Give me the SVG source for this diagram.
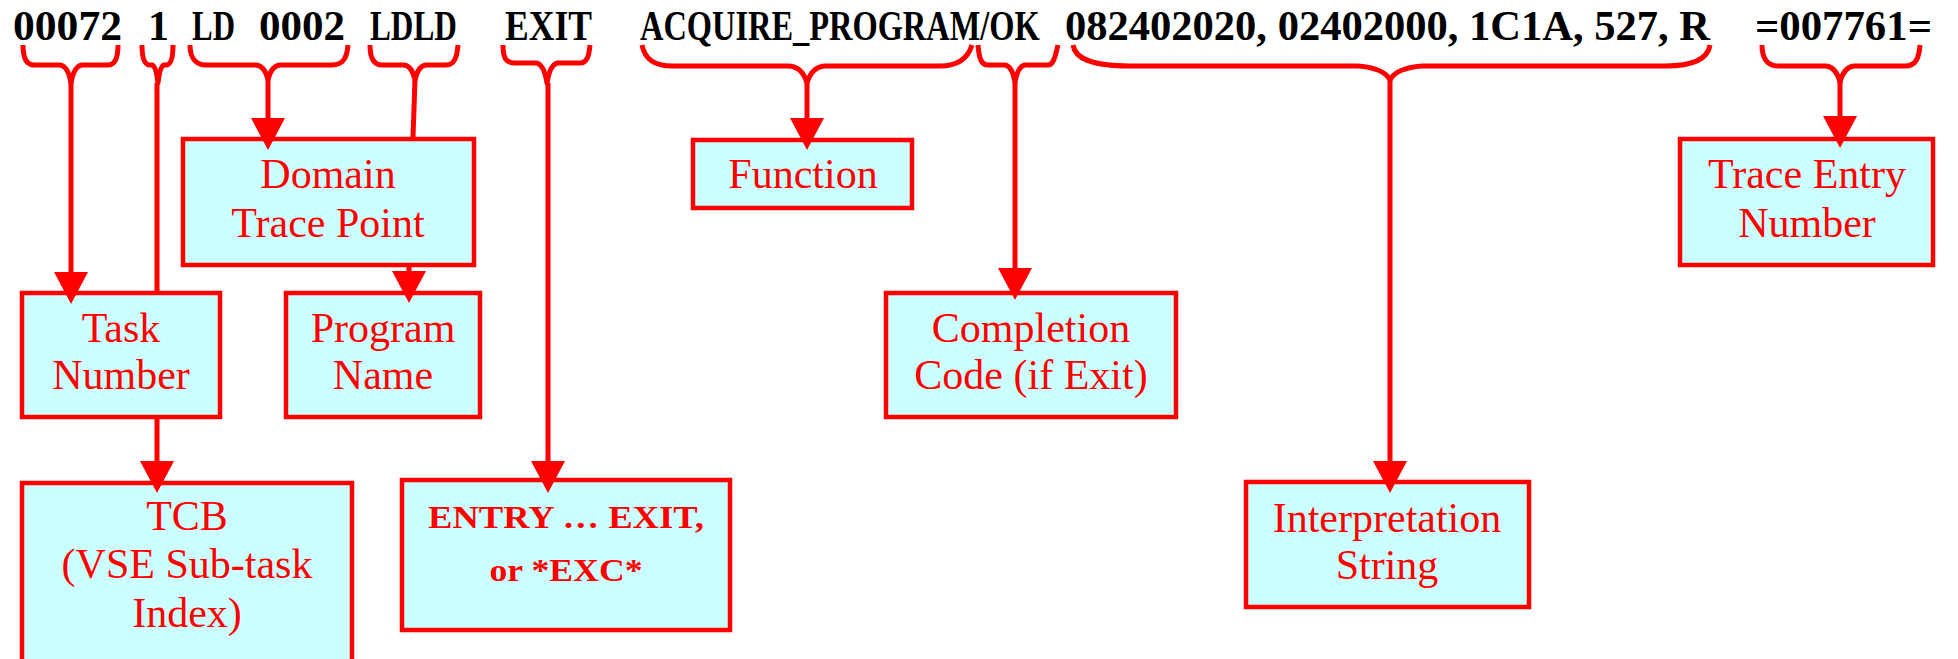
<svg xmlns="http://www.w3.org/2000/svg" width="1958" height="659" viewBox="0 0 1958 659">
<style>
.code{font-family:"Liberation Serif","Times New Roman",serif;font-weight:bold;font-size:42px;fill:#000}
.box{fill:#CCFFFF;stroke:#FF0000;stroke-width:4.5}
.lbl{font-family:"Liberation Serif","Times New Roman",serif;font-size:42px;fill:#FF0000;text-anchor:middle}
.blbl{font-family:"Liberation Serif","Times New Roman",serif;font-size:32px;font-weight:bold;fill:#FF0000;text-anchor:middle}
.brace{fill:none;stroke:#FF0000;stroke-width:5;stroke-linejoin:round}
.conn{fill:none;stroke:#FF0000;stroke-width:5}
.arr{marker-end:url(#ah)}
</style>
<defs>
<marker id="ah" markerUnits="userSpaceOnUse" markerWidth="34" markerHeight="34" refX="24" refY="17" orient="auto">
<path d="M0,0 L32,17 L0,34 Z" fill="#FF0000"/>
</marker>
</defs>
<rect width="1958" height="659" fill="#FFFFFF"/>
<g id="trace-line">
<text class="code" x="13" y="40" textLength="109" lengthAdjust="spacingAndGlyphs">00072</text>
<text class="code" x="148" y="40">1</text>
<text class="code" transform="translate(192 40) scale(0.737 1)">LD</text>
<text class="code" x="259" y="40" textLength="86" lengthAdjust="spacingAndGlyphs">0002</text>
<text class="code" transform="translate(370 40) scale(0.745 1)">LDLD</text>
<text class="code" transform="translate(505 40) scale(0.847 1)">EXIT</text>
<text class="code" transform="translate(640 40) scale(0.772 1)">ACQUIRE_PROGRAM/OK</text>
<text class="code" x="1065" y="40" textLength="645" lengthAdjust="spacingAndGlyphs">082402020, 02402000, 1C1A, 527, R</text>
<text class="code" x="1755" y="40" textLength="177" lengthAdjust="spacingAndGlyphs">=007761=</text>
</g>
<g id="braces">
<path class="brace" d="M23,45 C23,58 26,65 34,65 H60 Q68,66 71,83 Q74,66 82,65 H108 C115,65 118,58 118,45"/>
<path class="brace" d="M142,45 C142,58 144,65 150,65 H152 Q156,66 158,83 Q160,66 164,65 H166 C171,65 173,58 173,45"/>
<path class="brace" d="M190,45 C190,58 196,65 206,65 H256 Q265,66 268,80 Q271,66 280,65 H332 C343,65 347,58 348,45"/>
<path class="brace" d="M370,45 C370,58 374,65 382,65 H404 Q412,66 415,80 Q418,66 426,65 H446 C454,65 457,58 458,45"/>
<path class="brace" d="M503,45 C503,58 506,63 514,63 H536 Q544,64 547,83 Q550,64 558,63 H580 C587,63 589,56 590,45"/>
<path class="brace" d="M642,45 C645,60 655,66 672,66 H788 Q802,66 807,83 Q812,66 826,66 H940 C958,66 968,58 972,45"/>
<path class="brace" d="M978,45 C979,58 981,65 988,65 H1005 Q1012,66 1015,82 Q1018,66 1025,65 H1048 C1053,65 1055,58 1058,45"/>
<path class="brace" d="M1073,45 C1075,58 1090,66 1130,66 H1358 Q1384,68 1390,80 Q1396,68 1422,66 H1665 C1695,66 1708,58 1710,45"/>
<path class="brace" d="M1762,45 C1762,58 1767,66 1778,66 H1826 Q1836,67 1840,82 Q1844,67 1854,66 H1905 C1916,66 1919,58 1920,45"/>
</g>
<g id="domain-trace-point">
<rect class="box" x="183" y="139" width="291" height="126"/>
<text class="lbl" x="328" y="188">Domain</text>
<text class="lbl" x="328" y="237">Trace Point</text>
</g>
<g id="function">
<rect class="box" x="693" y="140" width="219" height="68"/>
<text class="lbl" x="803" y="188">Function</text>
</g>
<g id="trace-entry-number">
<rect class="box" x="1680" y="139" width="253" height="126"/>
<text class="lbl" x="1807" y="188">Trace Entry</text>
<text class="lbl" x="1807" y="237">Number</text>
</g>
<g id="task-number">
<rect class="box" x="22" y="293" width="198" height="124"/>
<text class="lbl" x="121" y="342">Task</text>
<text class="lbl" x="121" y="389">Number</text>
</g>
<g id="program-name">
<rect class="box" x="286" y="293" width="194" height="124"/>
<text class="lbl" x="383" y="342">Program</text>
<text class="lbl" x="383" y="389">Name</text>
</g>
<g id="completion-code">
<rect class="box" x="886" y="293" width="290" height="124"/>
<text class="lbl" x="1031" y="342">Completion</text>
<text class="lbl" x="1031" y="389">Code (if Exit)</text>
</g>
<g id="tcb">
<rect class="box" x="22" y="483" width="330" height="200"/>
<text class="lbl" x="187" y="530">TCB</text>
<text class="lbl" x="187" y="578">(VSE Sub-task</text>
<text class="lbl" x="187" y="627">Index)</text>
</g>
<g id="entry-exit">
<rect class="box" x="402" y="480" width="328" height="150"/>
<text class="blbl" x="566" y="528" textLength="276" lengthAdjust="spacingAndGlyphs">ENTRY … EXIT,</text>
<text class="blbl" x="566" y="581" textLength="153" lengthAdjust="spacingAndGlyphs">or *EXC*</text>
</g>
<g id="interpretation-string">
<rect class="box" x="1246" y="482" width="283" height="125"/>
<text class="lbl" x="1387" y="532">Interpretation</text>
<text class="lbl" x="1387" y="579">String</text>
</g>
<g id="connectors">
<line class="conn arr" x1="71" y1="83" x2="71" y2="296"/>
<line class="conn" x1="157" y1="83" x2="157" y2="291"/>
<line class="conn arr" x1="157" y1="419" x2="157" y2="485"/>
<line class="conn arr" x1="268" y1="80" x2="268" y2="142"/>
<line class="conn" x1="415" y1="80" x2="413" y2="137"/>
<line class="conn arr" x1="409" y1="267" x2="409" y2="295"/>
<line class="conn arr" x1="548" y1="83" x2="548" y2="485"/>
<line class="conn arr" x1="807" y1="83" x2="807" y2="142"/>
<line class="conn arr" x1="1015" y1="82" x2="1015" y2="292"/>
<line class="conn arr" x1="1390" y1="80" x2="1390" y2="485"/>
<line class="conn arr" x1="1840" y1="82" x2="1840" y2="140"/>
</g>
</svg>
